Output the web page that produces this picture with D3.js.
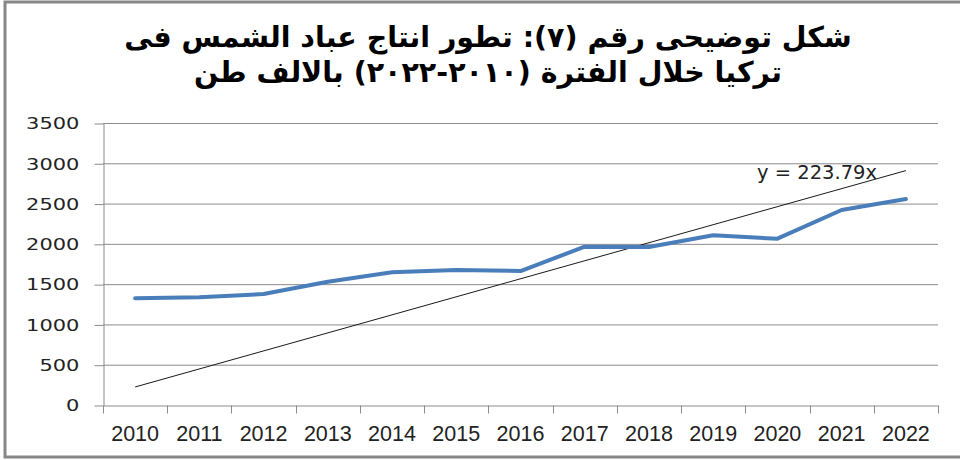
<!DOCTYPE html>
<html>
<head>
<meta charset="utf-8">
<script src="https://cdn.jsdelivr.net/npm/d3@7"></script>
<style>
  body { margin: 0; background: #fff; }
  svg { display: block; }
</style>
</head>
<body>
<svg id="chart"></svg>
<script>
// data
const years = ["2010", "2011", "2012", "2013", "2014", "2015", "2016",
               "2017", "2018", "2019", "2020", "2021", "2022"];
const production = [1325, 1337, 1377, 1530, 1647, 1675, 1663,
                    1965, 1962, 2106, 2064, 2420, 2557];
const yTicks = [0, 500, 1000, 1500, 2000, 2500, 3000, 3500];
const trendSlope = 223.79;   // y = 223.79x , x = 1..13
const titleLines = [
  "شكل توضيحى رقم (٧): تطور انتاج عباد الشمس فى",
  "تركيا خلال الفترة (٢٠١٠-٢٠٢٢) بالالف طن"
];

function drawChart() {
  const width = 960, height = 460;
  const margin = { top: 123, right: 22, bottom: 55, left: 103 };

  const svg = d3.select("#chart")
    .attr("width", width)
    .attr("height", height);

  // outer frame
  svg.append("rect")
    .attr("x", 5).attr("y", 2)
    .attr("width", width).attr("height", 455)
    .attr("fill", "none")
    .attr("stroke", "#878787")
    .attr("stroke-width", 3);

  // title
  svg.append("g")
    .selectAll("text")
    .data(titleLines)
    .join("text")
    .attr("x", 488)
    .attr("y", (d, i) => 47 + i * 35)
    .attr("text-anchor", "middle")
    .attr("direction", "rtl")
    .attr("font-family", "'DejaVu Sans', sans-serif")
    .attr("font-weight", "bold")
    .attr("font-size", 28.5)
    .attr("fill", "#000")
    .text(d => d);

  const x = d3.scaleBand()
    .domain(years)
    .range([margin.left, width - margin.right]);

  const y = d3.scaleLinear()
    .domain([0, 3500])
    .range([height - margin.bottom, margin.top]);

  // gridlines
  svg.append("g")
    .selectAll("line")
    .data(yTicks.filter(d => d > 0))
    .join("line")
    .attr("x1", margin.left)
    .attr("x2", width - margin.right)
    .attr("y1", d => y(d) + 0.5)
    .attr("y2", d => y(d) + 0.5)
    .attr("stroke", "#8c8c8c")
    .attr("stroke-width", 1);

  // y axis
  const yAxis = svg.append("g")
    .attr("transform", `translate(${margin.left + 0.5},0.5)`)
    .call(d3.axisLeft(y).tickValues(yTicks).tickFormat(d3.format("d"))
      .tickSize(9).tickPadding(10).tickSizeOuter(0));
  yAxis.selectAll("path, line").attr("stroke", "#8c8c8c");
  yAxis.selectAll("text")
    .attr("font-family", "'DejaVu Sans', sans-serif")
    .attr("font-size", 16.5)
    .attr("fill", "#222")
    .attr("x", -19)
    .attr("transform", "scale(1.27,1)");

  // x axis
  const xAxis = svg.append("g")
    .attr("transform", `translate(0,${height - margin.bottom + 0.5})`)
    .call(d3.axisBottom(x).tickSize(0).tickPadding(0));
  xAxis.select(".domain").attr("stroke", "#8c8c8c");
  xAxis.selectAll("text")
    .attr("font-family", "'Liberation Sans', Arial, sans-serif")
    .attr("font-size", 21.5)
    .attr("fill", "#222")
    .attr("y", 0)
    .attr("dy", "35px");
  // ticks on band edges
  xAxis.append("g")
    .selectAll("line")
    .data(years.map(d => x(d)).concat([x(years[years.length - 1]) + x.bandwidth()]))
    .join("line")
    .attr("x1", d => Math.round(d) + 0.5)
    .attr("x2", d => Math.round(d) + 0.5)
    .attr("y1", 0)
    .attr("y2", 8)
    .attr("stroke", "#8c8c8c");

  const cx = d => x(d) + x.bandwidth() / 2;

  // trend line y = 223.79x
  const first = years[0], last = years[years.length - 1];
  svg.append("line")
    .attr("x1", cx(first))
    .attr("y1", y(trendSlope * 1))
    .attr("x2", cx(last))
    .attr("y2", y(trendSlope * years.length))
    .attr("stroke", "#1a1a1a")
    .attr("stroke-width", 1);

  // production line
  const line = d3.line()
    .x((d, i) => cx(years[i]))
    .y(d => y(d));

  svg.append("path")
    .datum(production)
    .attr("d", line)
    .attr("fill", "none")
    .attr("stroke", "#4a7ebb")
    .attr("stroke-width", 4)
    .attr("stroke-linejoin", "round")
    .attr("stroke-linecap", "round");

  // trend label
  svg.append("text")
    .attr("x", 757)
    .attr("y", 179)
    .attr("font-family", "'DejaVu Sans', sans-serif")
    .attr("font-size", 19.5)
    .attr("fill", "#222")
    .text("y = " + trendSlope + "x");
}

document.addEventListener("DOMContentLoaded", function() {
  drawChart();
});
</script>
</body>
</html>
